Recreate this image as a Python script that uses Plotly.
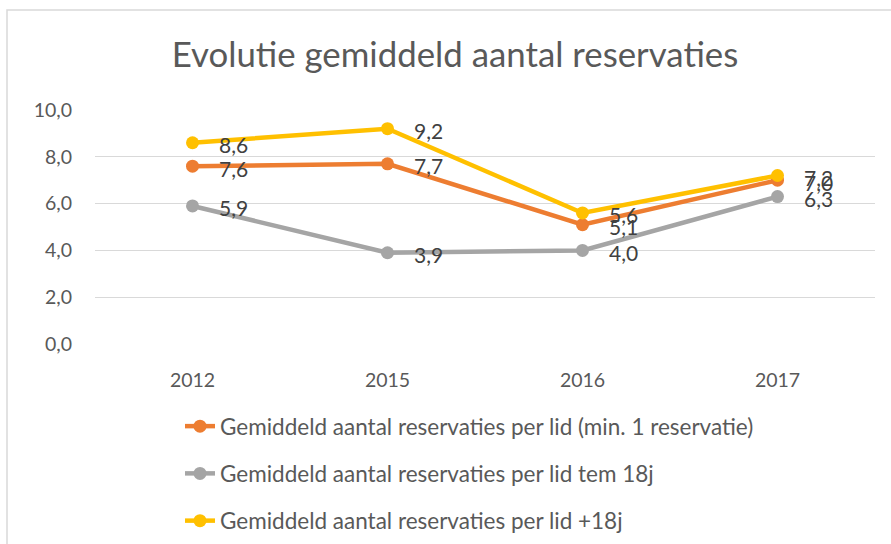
import plotly.graph_objects as go

years = ["2012", "2015", "2016", "2017"]
series_names = [
    "Gemiddeld aantal reservaties per lid (min. 1 reservatie)",
    "Gemiddeld aantal reservaties per lid tem 18j",
    "Gemiddeld aantal reservaties per lid +18j",
]
orange_vals = [7.6, 7.7, 5.1, 7.0]
gray_vals = [5.9, 3.9, 4.0, 6.3]
yellow_vals = [8.6, 9.2, 5.6, 7.2]
y_ticks = [0, 2, 4, 6, 8, 10]
y_tick_labels = ["0,0", "2,0", "4,0", "6,0", "8,0", "10,0"]

colors = ["#ED7D31", "#A5A5A5", "#FFC000"]
all_vals = [orange_vals, gray_vals, yellow_vals]

FONT = "Lato, 'Open Sans', sans-serif"
W, H = 891, 544
ML, MR, MT, MB = 95, 16, 110, 200
PW, PH = W - ML - MR, H - MT - MB

fig = go.Figure()
for name, vals, c in zip(series_names, all_vals, colors):
    fig.add_trace(go.Scatter(
        x=years, y=vals, name=name, mode="lines+markers",
        line=dict(color=c, width=4.5),
        marker=dict(color=c, size=13),
        legendgroup=name,
    ))

annotations = []
for vals in all_vals:
    for i, v in enumerate(vals):
        annotations.append(dict(
            x=i, y=v, xref="x", yref="y", text=f"{v:.1f}".replace(".", ","),
            showarrow=False, xanchor="left", yanchor="middle",
            xshift=24, yshift=-2,
            font=dict(family=FONT, size=21, color="#404040"),
        ))

fig.update_layout(
    width=W, height=H,
    margin=dict(l=ML, r=MR, t=MT, b=MB, autoexpand=False),
    paper_bgcolor="white", plot_bgcolor="white",
    title=dict(text="Evolutie gemiddeld aantal reservaties",
               x=455 / W, xanchor="center", y=1 - 55 / H, yanchor="middle",
               font=dict(family=FONT, size=34.8, color="#595959")),
    xaxis=dict(type="category", range=[-0.5, 3.5], showgrid=False,
               showline=False, zeroline=False, ticks="",
               ticklabelstandoff=22,
               tickfont=dict(family=FONT, size=19.5, color="#595959")),
    yaxis=dict(range=[0, 10], tickvals=y_ticks, ticktext=y_tick_labels,
               showgrid=True, gridcolor="#D9D9D9", gridwidth=1.3,
               zeroline=False, showline=False, ticks="",
               ticklabelstandoff=22,
               tickfont=dict(family=FONT, size=19.5, color="#595959")),
    legend=dict(orientation="v", xref="container", yref="container",
                x=180 / W, xanchor="left",
                y=1 - 405 / H, yanchor="top",
                traceorder="grouped", tracegroupgap=15,
                font=dict(family=FONT, size=22.5, color="#595959"),
                itemwidth=30),
    annotations=annotations,
    shapes=[dict(type="rect", xref="paper", yref="paper",
                 x0=(7 - ML) / PW, x1=(W + 10 - ML) / PW,
                 y0=-(H + 10 - MT - PH) / PH, y1=1 + (MT - 10) / PH,
                 line=dict(color="#D9D9D9", width=1.5), layer="below")],
    showlegend=True,
)

fig.write_html("out.html", config={"displayModeBar": False},
               post_script="document.body.style.margin='0';document.body.style.padding='0';")
